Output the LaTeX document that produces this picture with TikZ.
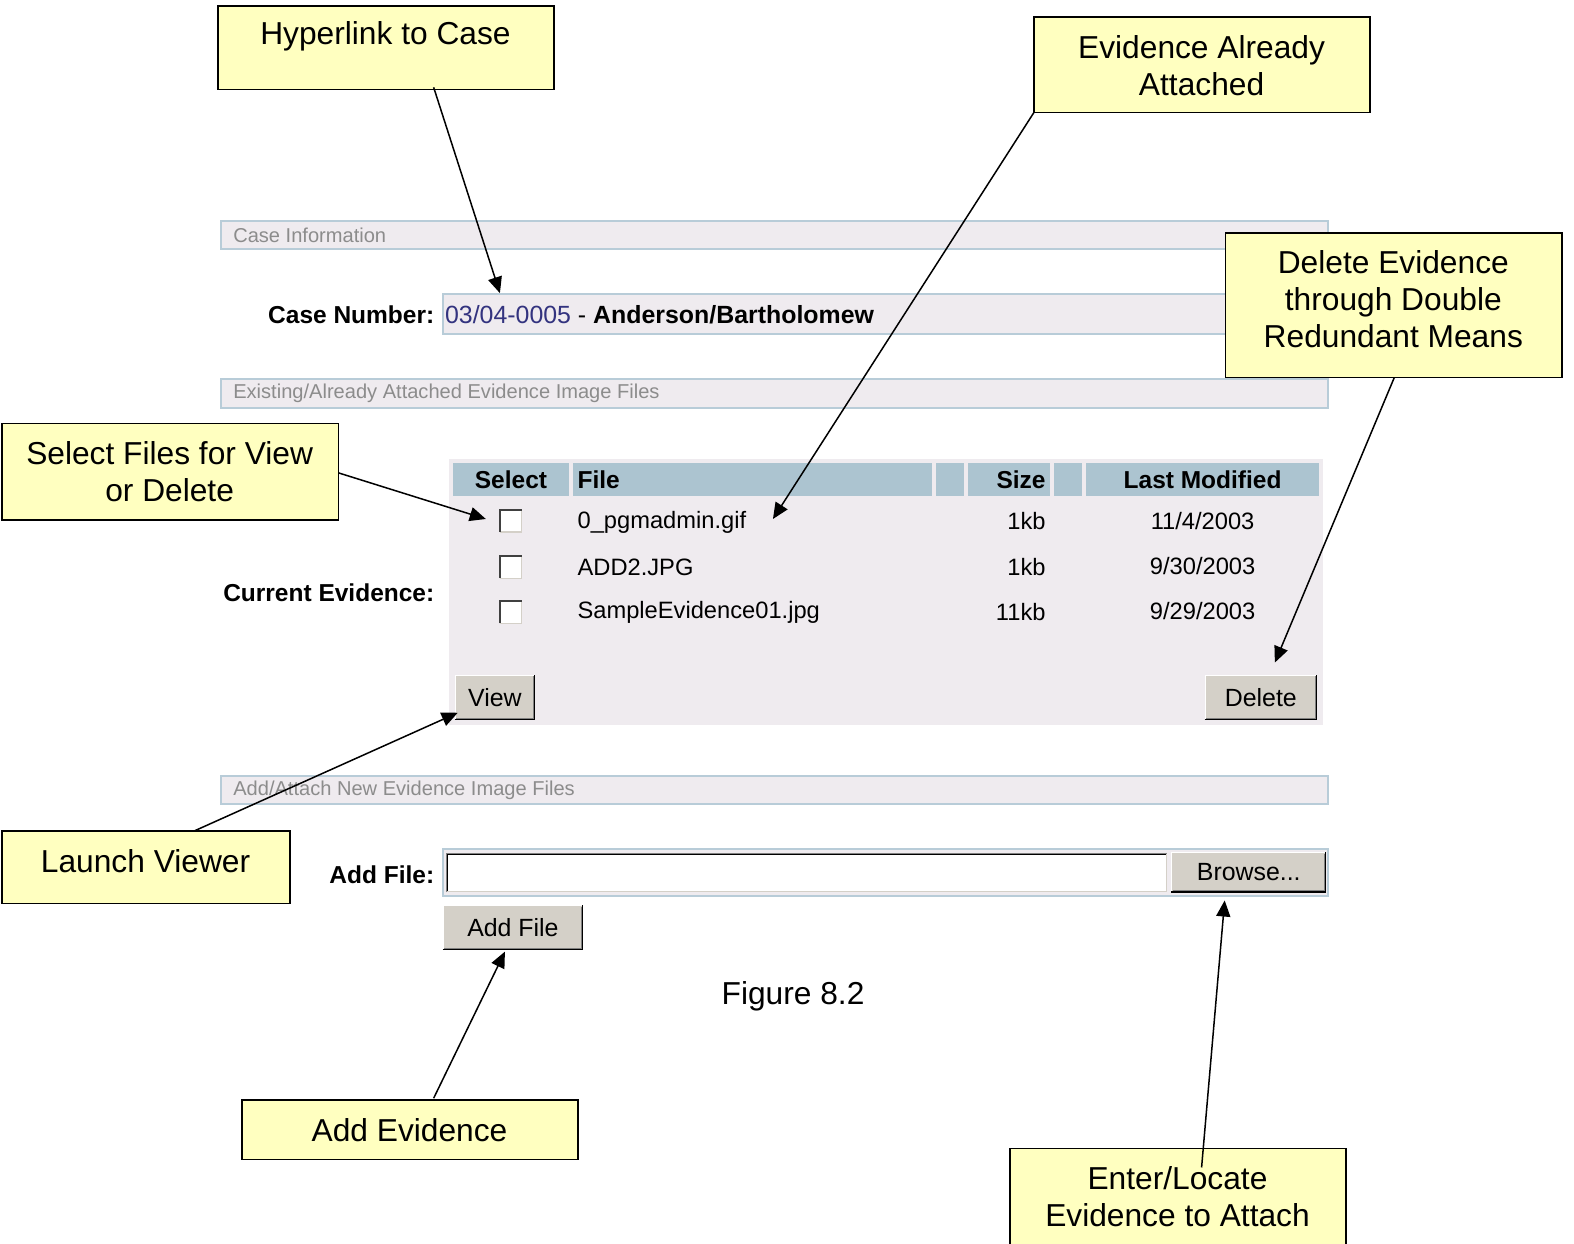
\documentclass[tikz,border=0pt]{standalone}
\usepackage{fontspec}
\setmainfont{Liberation Sans}
\usetikzlibrary{arrows.meta,fit}

\definecolor{notefill}{HTML}{FFFFC0}
\definecolor{panelfill}{HTML}{EFEBEF}
\definecolor{barline}{HTML}{B8CCD8}
\definecolor{headfill}{HTML}{ACC4D0}
\definecolor{btnface}{HTML}{D4D0C8}
\definecolor{btnshade}{HTML}{808080}
\definecolor{captiongray}{HTML}{8C8C8C}
\definecolor{linkblue}{HTML}{33337F}

\tikzset{
  note/.style={draw=black, line width=0.75pt, fill=notefill, inner sep=0pt},
  notetext/.style={font=\fontsize{15.8}{18.5}\selectfont, align=center, inner sep=0pt},
  callout/.style={-{Triangle[length=8pt,width=7pt]}, line width=0.75pt},
  bar/.style={draw=barline, line width=1pt, fill=panelfill},
  bartext/.style={font=\fontsize{10}{12}\selectfont, text=captiongray, anchor=west, inner sep=0pt},
  formlabel/.style={font=\bfseries\fontsize{12.2}{14}\selectfont, anchor=east, inner sep=0pt},
  headtext/.style={font=\bfseries\fontsize{12.2}{14}\selectfont, inner sep=0pt},
  rowtext/.style={font=\fontsize{11.8}{14}\selectfont, inner sep=0pt},
  btntext/.style={font=\fontsize{12.4}{14}\selectfont, inner sep=0pt},
}

% raised push button: name, x1, y1, x2, y2, label
\newcommand{\winbutton}[6]{%
  \fill[btnface] (#2,#3) rectangle (#4,#5);
  \draw[white, line width=0.5pt] (#2+0.5,#5-1) -- (#2+0.5,#3+0.5) -- (#4-1,#3+0.5);
  \draw[black, line width=0.6pt] (#2,#5-0.5) -- (#4-0.5,#5-0.5) -- (#4-0.5,#3);
  \draw[btnshade, line width=0.5pt] (#2+1.5,#5-1.5) -- (#4-1.5,#5-1.5) -- (#4-1.5,#3+1.5);
  \node[btntext] (#1) at ({(#2+#4)/2},{(#3+#5)/2}) {#6};
}

% sunken check box: name, centre x, centre y
\newcommand{\checkbox}[3]{%
  \node[fill=white, minimum size=10.5pt, inner sep=0pt] (#1) at (#2,#3) {};
  \draw[btnface, line width=0.6pt] (#1.south west) -- (#1.south east) -- (#1.north east);
  \draw[black!75, line width=1pt] (#1.south west) -- (#1.north west) -- (#1.north east);
}

\begin{document}
\begin{tikzpicture}[x=0.5pt,y=-0.5pt]
\useasboundingbox[fill=white] (0,0) rectangle (1568,1239);

% ---------- case information ----------
\draw[bar] (220,220) rectangle (1323,248);
\node[bartext] (casebar) at (232,234) {Case Information};

\node[formlabel] (caselabel) at (433,314) {Case Number:};
\draw[bar] (441,293) rectangle (1323,333);
\node[rowtext, anchor=west, font=\fontsize{12.4}{14}\selectfont] (caseval) at (443,314)
  {\textcolor{linkblue}{03/04-0005} - \textbf{Anderson/Bartholomew}};

% ---------- existing evidence ----------
\draw[bar] (220,378) rectangle (1323,406);
\node[bartext] (existbar) at (232,392) {Existing/Already Attached Evidence Image Files};

\fill[panelfill] (447,457) rectangle (1318,722);
\fill[headfill] (451,461) rectangle (567,494);
\fill[headfill] (571,461) rectangle (928,494);
\fill[headfill] (932,461) rectangle (960,494);
\fill[headfill] (964,461) rectangle (1046,494);
\fill[headfill] (1050,461) rectangle (1078,494);
\fill[headfill] (1082,461) rectangle (1314,494);
\node[headtext] (hselect) at (509,478) {Select};
\node[headtext, anchor=west] (hfile) at (575,478) {File};
\node[headtext, anchor=east] (hsize) at (1042,478) {Size};
\node[headtext] (hmod) at (1198,478) {Last Modified};

\checkbox{cbone}{509}{519}
\checkbox{cbtwo}{509}{565}
\checkbox{cbthree}{509}{610}

\node[rowtext, anchor=west] (fone) at (575,520) {0\_pgmadmin.gif};
\node[rowtext, anchor=west] (ftwo) at (575,565) {ADD2.JPG};
\node[rowtext, anchor=west] (fthree) at (575,610) {SampleEvidence01.jpg};
\node[rowtext, anchor=east] (sone) at (1042,519) {1kb};
\node[rowtext, anchor=east] (stwo) at (1042,565) {1kb};
\node[rowtext, anchor=east] (sthree) at (1042,610) {11kb};
\node[rowtext] (done) at (1198,519) {11/4/2003};
\node[rowtext] (dtwo) at (1198,564) {9/30/2003};
\node[rowtext] (dthree) at (1198,609) {9/29/2003};

\node[formlabel] (curlabel) at (433,590) {Current Evidence:};

\winbutton{viewbtn}{453}{672}{533}{717}{View}
\winbutton{deletebtn}{1200}{672}{1312}{717}{Delete}

% ---------- new evidence ----------
\draw[bar] (220,773) rectangle (1323,801);
\node[bartext] (addbar) at (232,787) {Add/Attach New Evidence Image Files};

\node[formlabel] (addlabel) at (433,871) {Add File:};
\draw[bar] (441,846) rectangle (1323,893);
\fill[white] (444,850) rectangle (1163,889);
\draw[btnshade, line width=0.5pt] (444.5,889) -- (444.5,850.5) -- (1163,850.5);
\draw[black, line width=0.5pt] (445.5,888) -- (445.5,851.5) -- (1162,851.5);
\draw[btnface, line width=0.5pt] (445,888.5) -- (1162.5,888.5) -- (1162.5,851);
\node[inner sep=0pt] (fieldbox) at (803,870) {};
\winbutton{browsebtn}{1167}{849}{1321}{889}{Browse...}

\winbutton{addbtn}{441}{902}{581}{946}{Add File}

\node[notetext] (figcap) at (790,992) {Figure 8.2};

% ---------- callouts ----------
\node[note, fit={(217,6) (552,89)}] (hyperbox) {};
\node[notetext] (hypertext) at (384,36) {Hyperlink to Case};

\node[note, fit={(1030,17) (1365,112)}] (attbox) {};
\node[notetext] (atttext) at (1197,65) {Evidence Already\\Attached};

\node[note, fit={(1221,232) (1556,376)}] (delbox) {};
\node[notetext] (deltext) at (1388,298) {Delete Evidence\\through Double\\Redundant Means};

\node[note, fit={(2,422) (337,518)}] (selbox) {};
\node[notetext] (seltext) at (169,470) {Select Files for View\\or Delete};

\node[note, fit={(2,828) (289,900)}] (launchbox) {};
\node[notetext] (launchtext) at (145,858) {Launch Viewer};

\node[note, fit={(241,1096) (576,1155)}] (addevbox) {};
\node[notetext] (addevtext) at (408,1126) {Add Evidence};

\node[note, fit={(1006,1144) (1341,1245)}] (enterbox) {};
\node[notetext] (entertext) at (1173,1192) {Enter/Locate\\Evidence to Attach};

% ---------- connectors ----------
\coordinate (hyperfoot) at (432,87);
\coordinate (casetip) at (498,292);
\coordinate (attfoot) at (1030,112);
\coordinate (filetip) at (770,517);
\coordinate (delfoot) at (1389,376);
\coordinate (deltip) at (1270,660);
\coordinate (selfoot) at (337,471);
\coordinate (cbtip) at (484,517);
\coordinate (launchfoot) at (193,828);
\coordinate (viewtip) at (456,710);
\coordinate (addevfoot) at (432,1094);
\coordinate (addtip) at (503,948);
\coordinate (enterfoot) at (1197,1163);
\coordinate (browsetip) at (1220,897);

\draw[callout] (hyperfoot) -- (casetip);
\draw[callout] (attfoot) -- (filetip);
\draw[callout] (delfoot) -- (deltip);
\draw[callout] (selfoot) -- (cbtip);
\draw[callout] (launchfoot) -- (viewtip);
\draw[callout] (addevfoot) -- (addtip);
\draw[callout] (enterfoot) -- (browsetip);
\end{tikzpicture}
\end{document}
